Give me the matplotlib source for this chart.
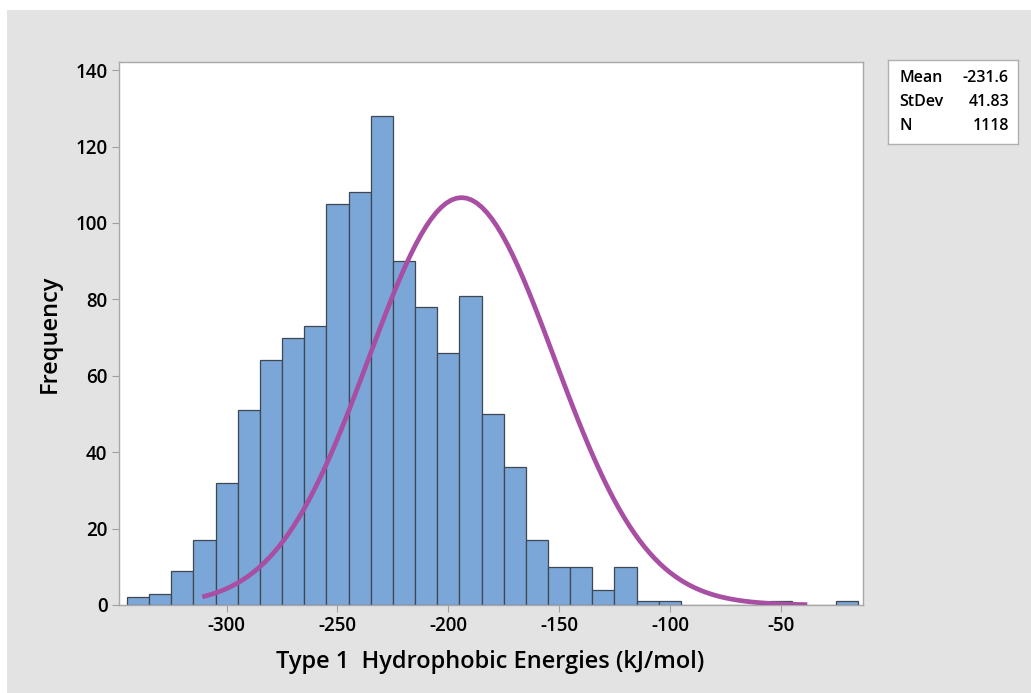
import numpy as np
import matplotlib.pyplot as plt

# histogram bins (centres, width 10) and counts
bin_centers = [-340, -330, -320, -310, -300, -290, -280, -270, -260, -250,
               -240, -230, -220, -210, -200, -190, -180, -170, -160, -150,
               -140, -130, -120, -110, -100, -90, -80, -70, -60, -50,
               -40, -30, -20]
counts = [2, 3, 9, 17, 32, 51, 64, 70, 73, 105,
          108, 128, 90, 78, 66, 81, 50, 36, 17, 10,
          10, 4, 10, 1, 1, 0, 0, 0, 0, 1,
          0, 0, 1]
bin_width = 10

# fitted normal curve as drawn
fit_mean = -194.0
fit_sd = 41.83
fit_n = 1118
fit_start, fit_end = -311, -38

stats_labels = ["Mean", "StDev", "N"]
stats_values = ["-231.6", "41.83", "1118"]

x_ticks = [-300, -250, -200, -150, -100, -50]
y_ticks = [0, 20, 40, 60, 80, 100, 120, 140]

plt.rcParams['font.family'] = ['Open Sans', 'DejaVu Sans']
plt.rcParams['axes.unicode_minus'] = False

fig = plt.figure(figsize=(10.31, 6.93), dpi=100)
fig.patch.set_facecolor('white')
# gray panel behind everything (white strip at top/left like the original)
bg = fig.add_axes([7 / 1031, 0, 1 - 7 / 1031, 1 - 10 / 693])
bg.set_facecolor('#e3e3e3')
bg.set_xticks([])
bg.set_yticks([])
for s in bg.spines.values():
    s.set_visible(False)
bg.set_zorder(0)

ax = fig.add_axes([118.5 / 1031, 1 - 605 / 693, (862.7 - 118.5) / 1031, (605 - 61.7) / 693])
ax.set_zorder(1)
ax.set_facecolor('white')

ax.bar(bin_centers, counts, width=bin_width, color='#7ba7d8',
       edgecolor='#3f4750', linewidth=0.9, zorder=2)

xs = np.linspace(fit_start, fit_end, 120)
ys = fit_n * bin_width / (fit_sd * np.sqrt(2 * np.pi)) * np.exp(-0.5 * ((xs - fit_mean) / fit_sd) ** 2)
ax.plot(xs, ys, color='#a84fa3', linewidth=3.4, zorder=3, solid_capstyle='butt')

ax.set_xlim(-348.8, -13.0)
ax.set_ylim(0, 142.2)
ax.set_xticks(x_ticks)
ax.set_yticks(y_ticks)
ax.tick_params(axis='both', which='major', labelsize=13.5, length=5,
               color='#a0a0a0', direction='out', pad=3, labelcolor='black')
for lbl in ax.get_xticklabels() + ax.get_yticklabels():
    lbl.set_fontweight('semibold')
for s in ax.spines.values():
    s.set_color('#a8a8a8')
    s.set_linewidth(1.0)

ax.set_xlabel("Type 1  Hydrophobic Energies (kJ/mol)", fontsize=17,
              fontweight='semibold', labelpad=10)
ax.set_ylabel("Frequency", fontsize=17, fontweight='semibold', labelpad=10)

# stats box
box = fig.add_axes([888 / 1031, 1 - 144 / 693, 130 / 1031, 84 / 693])
box.set_zorder(2)
box.set_facecolor('white')
box.set_xticks([])
box.set_yticks([])
for s in box.spines.values():
    s.set_color('#b0b0b0')
    s.set_linewidth(1.0)
for i, (lab, val) in enumerate(zip(stats_labels, stats_values)):
    yy = 0.79 - i * 0.29
    box.text(0.09, yy, lab, fontsize=11.5, fontweight='semibold',
             va='center', ha='left', transform=box.transAxes)
    box.text(0.93, yy, val, fontsize=11.5, fontweight='semibold',
             va='center', ha='right', transform=box.transAxes)

fig.savefig('out.png', dpi=100)
